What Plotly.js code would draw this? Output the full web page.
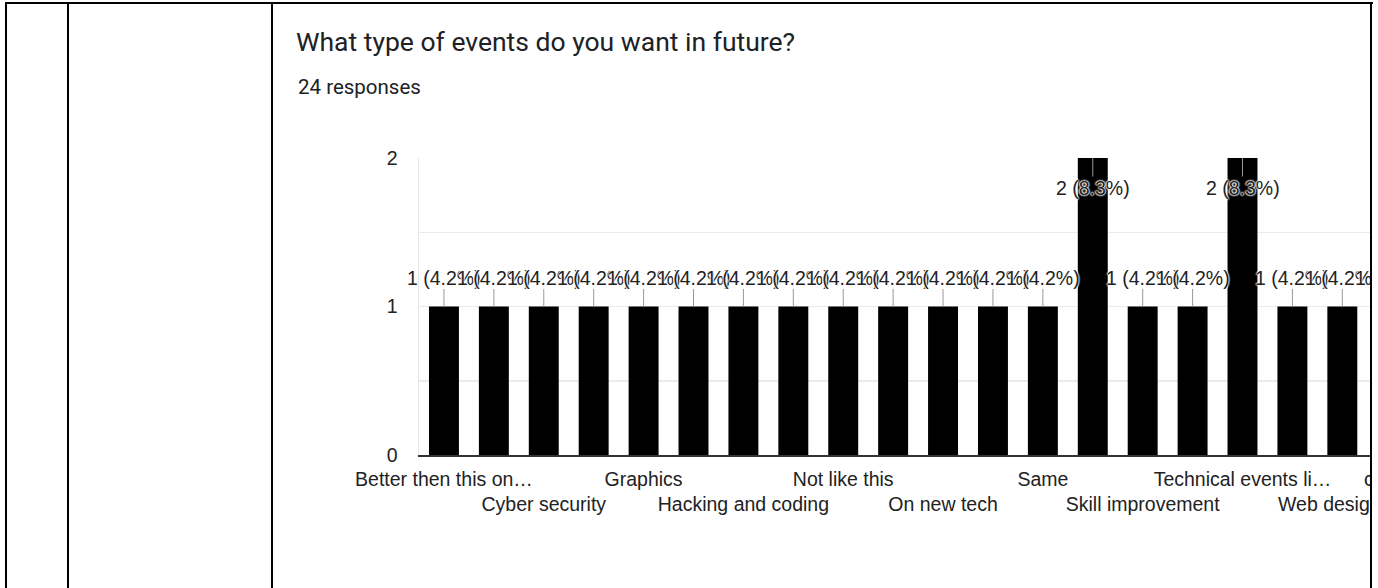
<!DOCTYPE html>
<html>
<head>
<meta charset="utf-8">
<script src="https://cdn.plot.ly/plotly-3.0.1.min.js"></script>
<style>
  html, body { margin: 0; padding: 0; background: #fff; overflow: hidden; }
  #clip { position: absolute; left: 0; top: 0; width: 1370px; height: 588px; overflow: hidden; }
  #chart { position: absolute; left: 0; top: 0; width: 1560px; height: 588px; }
  .bd { position: absolute; background: #000; pointer-events: none; }
</style>
</head>
<body>
<div id="clip"><div id="chart"></div></div>
<div class="bd" style="left:5px;top:2px;width:1368px;height:2px;"></div>
<div class="bd" style="left:5px;top:2px;width:2px;height:586px;"></div>
<div class="bd" style="left:67px;top:2px;width:2px;height:586px;"></div>
<div class="bd" style="left:271px;top:2px;width:2px;height:586px;"></div>
<div class="bd" style="left:1370px;top:2px;width:2px;height:586px;"></div>
<script>
// ---- data ----
const questionTitle = "What type of events do you want in future?";
const categories = [
  "Better then this on…", "Coding contest", "Cyber security", "Drone workshop",
  "Graphics", "Hackathon", "Hacking and coding", "Machine learning",
  "Not like this", "Nothing", "On new tech", "Robotics",
  "Same", "Seminars", "Skill improvement", "Sports events",
  "Technical events li…", "Treasure hunt", "Web designing", "Workshops",
  "coding workshops", "webinars"
];
const counts = [
  1, 1, 1, 1,
  1, 1, 1, 1,
  1, 1, 1, 1,
  1, 2, 1, 1,
  2, 1, 1, 1,
  1, 1
];
const yTickValues = [0, 1, 2];

// ---- derived ----
const total = counts.reduce((a, b) => a + b, 0);
const maxCount = Math.max(...counts);
const labelFont = "Arial, 'Liberation Sans', sans-serif";
const halo = "0 0 2px #fff, 0 0 2px #fff, 0 0 2px #fff, 0 0 2px #fff";

const W = 1560, H = 588, ML = 419, MR = 43, MT = 158, MB = 133;
const plotW = W - ML - MR, plotH = H - MT - MB;

const tickvals = [], ticktext = [];
categories.forEach((c, i) => {
  if (i % 2 === 0) {
    tickvals.push(c);
    ticktext.push((i / 2) % 2 === 0 ? c : "<br>" + c);
  }
});

const annotations = categories.map((c, i) => {
  const v = counts[i];
  const pct = (v / total * 100).toFixed(1);
  return {
    x: c, y: v, xref: "x", yref: "y",
    text: v + " (" + pct + "%)",
    showarrow: true, arrowhead: 0, arrowwidth: 1, arrowcolor: "#999",
    standoff: 0, startstandoff: 0,
    ax: 0, ay: v === maxCount ? 30 : -29,
    font: { family: labelFont, size: 19.5, color: "#222", shadow: halo },
    borderpad: 0
  };
});
annotations.push({
  xref: "paper", yref: "paper",
  x: (296 - ML) / plotW, y: (H - MB - 87) / plotH,
  xanchor: "left", yanchor: "middle",
  text: total + " responses", showarrow: false,
  font: { family: "Roboto, Arial, sans-serif", size: 20.5, color: "#202124" }
});

const trace = {
  type: "bar",
  x: categories,
  y: counts,
  marker: { color: "#000000" },
  hoverinfo: "none"
};

const layout = {
  width: W, height: H,
  margin: { l: ML, r: MR, t: MT, b: MB, autoexpand: false },
  paper_bgcolor: "#fff", plot_bgcolor: "#fff",
  showlegend: false,
  bargap: 0.4,
  title: {
    text: questionTitle,
    xref: "container", yref: "container",
    x: 296 / W, xanchor: "left",
    y: 1 - 42 / H, yanchor: "middle",
    font: { family: "Roboto, Arial, sans-serif", size: 26.5, color: "#202124" }
  },
  xaxis: {
    type: "category",
    range: [-0.5, categories.length - 0.5],
    tickmode: "array", tickvals: tickvals, ticktext: ticktext,
    tickangle: 0,
    ticks: "", ticklabelstandoff: 6,
    showgrid: false, zeroline: false,
    showline: true, linecolor: "#333", linewidth: 1.5,
    tickfont: { family: labelFont, size: 19.5, color: "#222" },
    automargin: false, fixedrange: true
  },
  yaxis: {
    range: [0, 2],
    tickmode: "array", tickvals: yTickValues,
    ticks: "", ticklabelstandoff: 16,
    showgrid: true, gridcolor: "#ebebeb", gridwidth: 1.5,
    minor: { tickmode: "linear", tick0: 0, dtick: 0.5, showgrid: true, gridcolor: "#ebebeb", gridwidth: 1.5 },
    zeroline: false,
    showline: true, linecolor: "#e6e6e6", linewidth: 1.5,
    tickfont: { family: labelFont, size: 19.5, color: "#222" },
    automargin: false, fixedrange: true
  },
  annotations: annotations
};

Plotly.newPlot("chart", [trace], layout, { displayModeBar: false, staticPlot: true });
</script>
</body>
</html>
